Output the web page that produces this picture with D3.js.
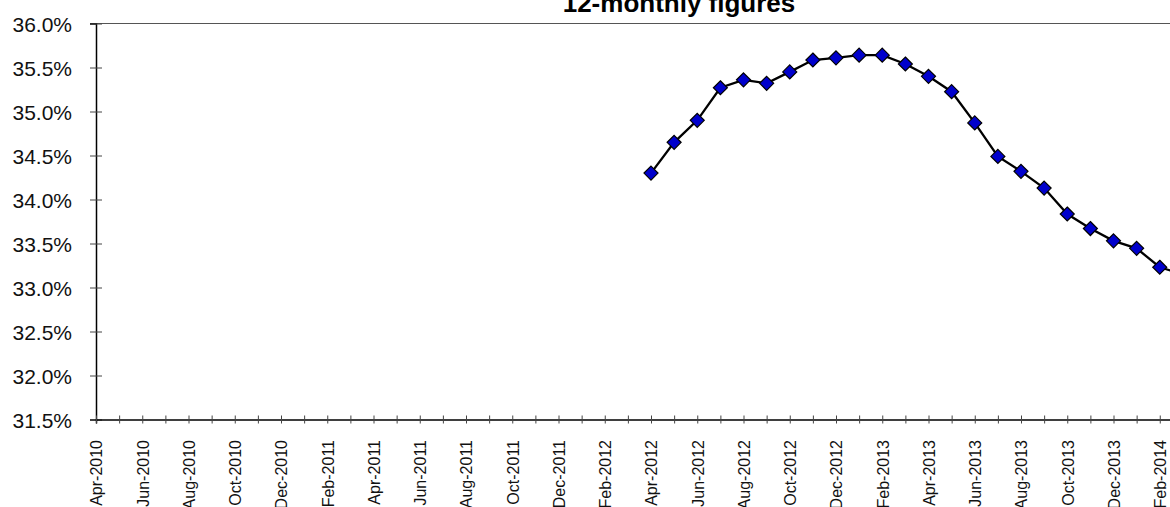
<!DOCTYPE html>
<html>
<head>
<meta charset="utf-8">
<script src="https://cdn.jsdelivr.net/npm/d3@7"></script>
<style>
  body { margin: 0; background: #fff; }
  svg { display: block; font-family: "Liberation Sans", Arial, sans-serif; }
</style>
</head>
<body>
<script>
// month categories on the x axis (Apr-2010 .. Mar-2014)
const months = [
  "Apr-2010","May-2010","Jun-2010","Jul-2010","Aug-2010","Sep-2010","Oct-2010","Nov-2010","Dec-2010",
  "Jan-2011","Feb-2011","Mar-2011","Apr-2011","May-2011","Jun-2011","Jul-2011","Aug-2011","Sep-2011",
  "Oct-2011","Nov-2011","Dec-2011","Jan-2012","Feb-2012","Mar-2012","Apr-2012","May-2012","Jun-2012",
  "Jul-2012","Aug-2012","Sep-2012","Oct-2012","Nov-2012","Dec-2012","Jan-2013","Feb-2013","Mar-2013",
  "Apr-2013","May-2013","Jun-2013","Jul-2013","Aug-2013","Sep-2013","Oct-2013","Nov-2013","Dec-2013",
  "Jan-2014","Feb-2014","Mar-2014"
];

// series starts at Apr-2012
const seriesStart = "Apr-2012";
const rate = [
  34.30, 34.65, 34.90, 35.27, 35.36, 35.32, 35.45, 35.585, 35.61, 35.64, 35.64, 35.54,
  35.40, 35.225, 34.87, 34.49, 34.32, 34.13, 33.835, 33.67, 33.53, 33.445, 33.23, 33.15
];

const yTicks = [31.5, 32.0, 32.5, 33.0, 33.5, 34.0, 34.5, 35.0, 35.5, 36.0];
const title = "12-monthly figures";

const width = 1170, height = 507;

const svg = d3.select("body").append("svg")
  .attr("width", width)
  .attr("height", height);

const x = d3.scaleLinear().domain([0, 48]).range([96, 96 + 48 * 23.125]);
const y = d3.scaleLinear().domain([31.5, 36]).range([419.5, 23.5]);

const startIdx = months.indexOf(seriesStart);
const data = rate.map((v, i) => ({ i: startIdx + i, v: v }));

// top border of plot area
svg.append("line")
  .attr("x1", 90).attr("x2", x(48))
  .attr("y1", y(36)).attr("y2", y(36))
  .attr("stroke", "#555").attr("stroke-width", 1);

// y axis
const yAxis = svg.append("g")
  .attr("transform", `translate(${x(0)},0)`)
  .call(d3.axisLeft(y).tickValues(yTicks).tickSize(6).tickFormat(d => d.toFixed(1) + "%"));
yAxis.select(".domain").attr("stroke", "#000").attr("stroke-width", 1.5);
yAxis.selectAll(".tick line").attr("x1", -6).attr("x2", 6).attr("stroke", "#444");
yAxis.selectAll(".tick text")
  .attr("x", -24)
  .attr("dy", "0.36em")
  .attr("font-size", 21)
  .attr("fill", "#111");

// x axis
const xAxis = svg.append("g")
  .attr("transform", `translate(0,${y(31.5)})`)
  .call(d3.axisBottom(x)
    .tickValues(d3.range(0, months.length))
    .tickSize(4)
    .tickFormat(i => i % 2 === 0 ? months[i] : ""));
xAxis.select(".domain").attr("stroke", "#000").attr("stroke-width", 1.5);
xAxis.selectAll(".tick line").attr("y1", -4).attr("y2", 4).attr("stroke", "#444");
xAxis.selectAll(".tick text")
  .attr("transform", "rotate(-90)")
  .attr("text-anchor", "end")
  .attr("x", -20.5)
  .attr("y", 0)
  .attr("dy", "0.36em")
  .attr("font-size", 16)
  .attr("fill", "#111");

// line
const line = d3.line().x(d => x(d.i)).y(d => y(d.v));
svg.append("path")
  .datum(data)
  .attr("d", line)
  .attr("fill", "none")
  .attr("stroke", "#000")
  .attr("stroke-width", 2.3);

// diamond markers
svg.append("g").selectAll("path")
  .data(data)
  .join("path")
  .attr("transform", d => `translate(${x(d.i)},${y(d.v)})`)
  .attr("d", "M0,-7L7,0L0,7L-7,0Z")
  .attr("fill", "#0000cc")
  .attr("stroke", "#000")
  .attr("stroke-width", 1.2);

// title (partly above the picture)
svg.append("text")
  .attr("x", 679)
  .attr("y", 12)
  .attr("text-anchor", "middle")
  .attr("font-size", 26)
  .attr("font-weight", "bold")
  .attr("fill", "#000")
  .text(title);
</script>
</body>
</html>
